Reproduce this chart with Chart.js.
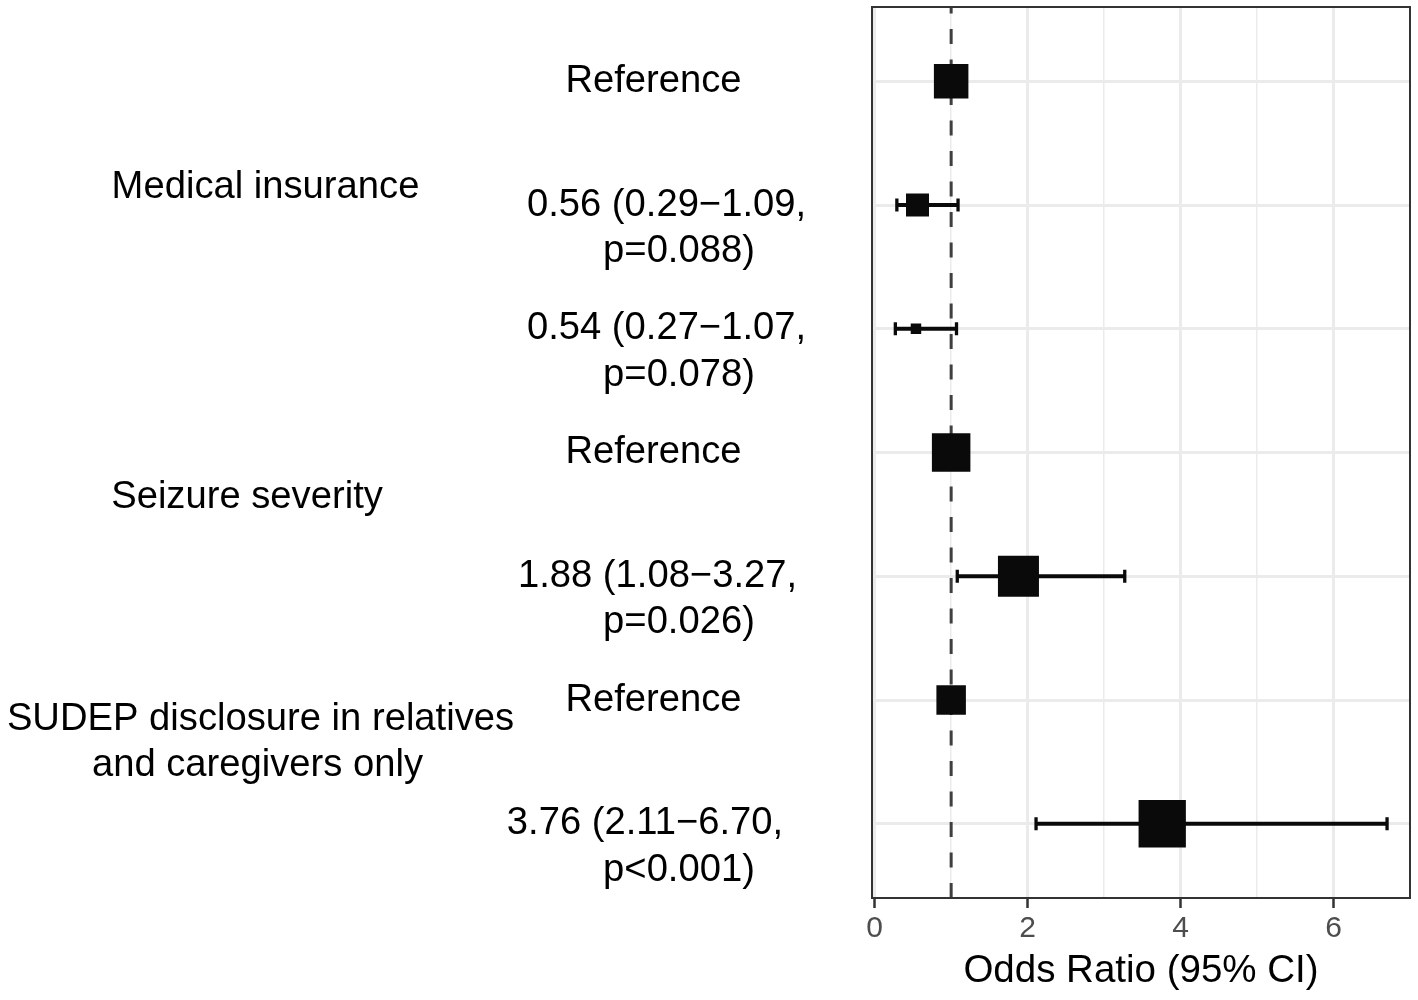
<!DOCTYPE html>
<html>
<head>
<meta charset="utf-8">
<script src="https://cdn.jsdelivr.net/npm/chart.js@4.4.1/dist/chart.umd.min.js"></script>
<style>
html,body{margin:0;padding:0;background:#ffffff;}
#wrap{width:1418px;height:1000px;position:relative;}
</style>
</head>
<body>
<div id="wrap"><canvas id="c"></canvas></div>
<script>
// ---------------- data ----------------
const rowIndex = [0, 1, 2, 3, 4, 5, 6];
const estimateLines = [
  ['Reference'],
  ['0.56 (0.29\u22121.09,', 'p=0.088)'],
  ['0.54 (0.27\u22121.07,', 'p=0.078)'],
  ['Reference'],
  ['1.88 (1.08\u22123.27,', 'p=0.026)'],
  ['Reference'],
  ['3.76 (2.11\u22126.70,', 'p<0.001)']
];
const oddsRatio = [1, 0.56, 0.54, 1, 1.88, 1, 3.76];
const ciLower = [null, 0.29, 0.27, null, 1.08, null, 2.11];
const ciUpper = [null, 1.09, 1.07, null, 3.27, null, 6.70];
const groupLabels = [
  ['Medical insurance'],
  ['Seizure severity'],
  ['SUDEP disclosure in relatives', 'and caregivers only']
];
const xTicks = [0, 1, 2, 3, 4, 5, 6];
const xTickLabels = ['0', '', '2', '', '4', '', '6'];
const referenceValue = 1;
const axisTitle = 'Odds Ratio (95% CI)';

// ---------------- style / layout ----------------
const FONT = '"Liberation Sans", Arial, Helvetica, sans-serif';
const INK = '#0a0a0a';
const squareSide = [34.5, 23, 10.5, 38.5, 41, 29.5, 47.3];
const estLineX = [[653.5], [666.5, 679], [666.5, 679], [653.5], [657.5, 679], [653.5], [645, 679]];
const groupRow = [0.86, 3.36, 5.155];
const groupLineX = [[265.5], [247], [260.5, 257.5]];
const lineStep = 0.375; // second text line offset, in row units

Chart.defaults.font.family = FONT;

const ciRows = rowIndex.filter(i => ciLower[i] !== null);

const textPlugin = {
  id: 'forestText',
  beforeDatasetsDraw(chart) {
    const {ctx, chartArea, scales} = chart;
    const xp = scales.x.getPixelForValue(referenceValue);
    ctx.save();
    ctx.beginPath();
    ctx.rect(chartArea.left, chartArea.top, chartArea.right - chartArea.left, chartArea.bottom - chartArea.top);
    ctx.clip();
    ctx.strokeStyle = '#3f3f3f';
    ctx.lineWidth = 3;
    ctx.setLineDash([15, 15.5]);
    ctx.beginPath();
    ctx.moveTo(xp, chartArea.bottom);
    ctx.lineTo(xp, chartArea.top);
    ctx.stroke();
    ctx.restore();
  },
  afterDatasetsDraw(chart) {
    const {ctx, chartArea} = chart;
    ctx.save();
    ctx.strokeStyle = '#333333';
    ctx.lineWidth = 2;
    ctx.strokeRect(chartArea.left, chartArea.top, chartArea.right - chartArea.left, chartArea.bottom - chartArea.top);
    ctx.restore();
  },
  afterDraw(chart) {
    const {ctx, scales} = chart;
    const y = scales.y;
    ctx.save();
    ctx.fillStyle = '#000000';
    ctx.font = '38.2px ' + FONT;
    ctx.textAlign = 'center';
    ctx.textBaseline = 'middle';
    estimateLines.forEach((lines, i) => {
      lines.forEach((t, k) => {
        ctx.fillText(t, estLineX[i][k], y.getPixelForValue(rowIndex[i] + k * lineStep));
      });
    });
    groupLabels.forEach((lines, g) => {
      lines.forEach((t, k) => {
        ctx.fillText(t, groupLineX[g][k], y.getPixelForValue(groupRow[g] + k * lineStep));
      });
    });
    ctx.restore();
  }
};

new Chart(document.getElementById('c'), {
  type: 'scatter',
  data: {
    datasets: [
      {
        type: 'scatter',
        label: 'Odds ratio',
        data: rowIndex.map(i => ({x: oddsRatio[i], y: i})),
        pointStyle: 'rect',
        pointRadius: squareSide.map(s => s / Math.SQRT2),
        pointHoverRadius: squareSide.map(s => s / Math.SQRT2),
        backgroundColor: INK,
        borderWidth: 0,
        order: 0
      },
      {
        type: 'scatter',
        label: 'CI caps',
        data: ciRows.flatMap(i => [{x: ciLower[i], y: i}, {x: ciUpper[i], y: i}]),
        pointStyle: 'line',
        pointRotation: 90,
        pointRadius: 6.5,
        pointHoverRadius: 6.5,
        borderColor: INK,
        borderWidth: 3.3,
        order: 1
      },
      {
        type: 'bar',
        label: '95% CI',
        indexAxis: 'y',
        xAxisID: 'x',
        yAxisID: 'y',
        data: ciRows.map(i => ({x: [ciLower[i], ciUpper[i]], y: i})),
        barThickness: 3.3,
        backgroundColor: INK,
        borderWidth: 0,
        order: 2
      }
    ]
  },
  plugins: [textPlugin],
  options: {
    responsive: true,
    maintainAspectRatio: false,
    animation: false,
    events: [],
    layout: {autoPadding: false, padding: {top: 7, right: 8, bottom: 0, left: 0}},
    plugins: {legend: {display: false}, tooltip: {enabled: false}},
    scales: {
      x: {
        type: 'linear',
        min: -0.035,
        max: 7.0,
        offset: false,
        afterBuildTicks: s => { s.ticks = xTicks.map(v => ({value: v})); },
        afterFit: s => { s.height = 102; },
        border: {display: false},
        grid: {
          offset: false,
          color: '#ebebeb',
          lineWidth: c => (c.tick && c.tick.value % 2 === 0) ? 3 : 1.5,
          drawTicks: true,
          tickLength: 10,
          tickWidth: 2.5,
          tickColor: c => (c.tick && c.tick.value % 2 === 0) ? '#333333' : 'rgba(0,0,0,0)'
        },
        ticks: {
          color: '#4d4d4d',
          font: {family: FONT, size: 30},
          padding: 3,
          maxRotation: 0,
          autoSkip: false,
          callback: (v) => { const k = xTicks.indexOf(v); return k >= 0 ? xTickLabels[k] : ''; }
        },
        title: {
          display: true,
          text: axisTitle,
          color: '#000000',
          font: {family: FONT, size: 38.5},
          padding: {top: 0, bottom: 6}
        }
      },
      y: {
        type: 'linear',
        min: -0.6,
        max: 6.6,
        reverse: true,
        offset: false,
        afterBuildTicks: s => { s.ticks = rowIndex.map(v => ({value: v})); },
        afterFit: s => { s.width = 872; },
        border: {display: false},
        grid: {offset: false, color: '#ebebeb', lineWidth: 3, drawTicks: false},
        ticks: {display: false}
      }
    }
  }
});
</script>
</body>
</html>
